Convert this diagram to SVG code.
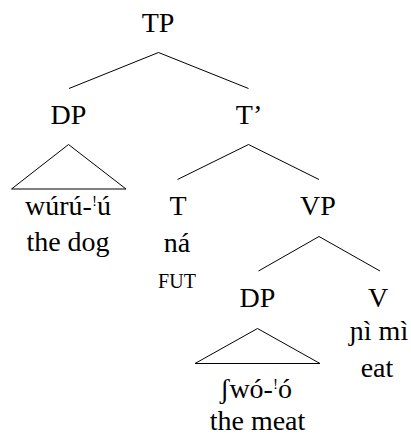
<svg xmlns="http://www.w3.org/2000/svg" width="411" height="435" viewBox="0 0 411 435" font-family="Liberation Serif">
<style>
text{font-size:28px;fill:#000;text-anchor:middle}
.sc{font-size:20px}
.sup{font-size:15px}
line,polygon{stroke:#000;stroke-width:1;fill:none}
</style>
<rect width="411" height="435" fill="#fff"/>
<g id="connectors">
<line x1="158.5" y1="52.5" x2="69" y2="88.5"/>
<line x1="158.5" y1="52.5" x2="248.5" y2="88.5"/>
<line x1="248.5" y1="144.5" x2="177.5" y2="179.5"/>
<line x1="248.5" y1="144.5" x2="319" y2="179.5"/>
<line x1="319" y1="236.5" x2="258.5" y2="271"/>
<line x1="319" y1="236.5" x2="380" y2="271"/>
</g>
<g id="TP"><text font-family="Liberation Serif" x="158" y="32">TP</text></g>
<g id="DP1">
<text font-family="Liberation Serif" x="68.5" y="124">DP</text>
<polygon points="68.5,144.5 11.5,189 126,189"/>
<text font-family="Liberation Serif" x="68" y="215">w&#xFA;r&#xFA;-<tspan class="sup" dy="-9">!</tspan><tspan dy="9">&#xFA;</tspan></text>
<text font-family="Liberation Serif" x="68" y="251">the dog</text>
</g>
<g id="Tbar"><text font-family="Liberation Serif" x="249" y="124">T&#x2019;</text></g>
<g id="T">
<text font-family="Liberation Serif" x="178" y="215">T</text>
<text font-family="Liberation Serif" x="177" y="252">n&#xE1;</text>
<text font-family="Liberation Serif" class="sc" x="177" y="288">FUT</text>
</g>
<g id="VP"><text font-family="Liberation Serif" x="318" y="215">VP</text></g>
<g id="DP2">
<text font-family="Liberation Serif" x="257.5" y="306.5">DP</text>
<polygon points="257.5,328.5 195,363.5 320,363.5"/>
<text font-family="Liberation Serif" x="256" y="397.5">&#x283;w&#xF3;-<tspan class="sup" dy="-9">!</tspan><tspan dy="9">&#xF3;</tspan></text>
<text font-family="Liberation Serif" x="257.5" y="430">the meat</text>
</g>
<g id="V">
<text font-family="Liberation Serif" x="378" y="306.5">V</text>
<text font-family="Liberation Serif" x="379" y="340">&#x272;&#xEC; m&#xEC;</text>
<text font-family="Liberation Serif" x="377" y="377">eat</text>
</g>
</svg>
